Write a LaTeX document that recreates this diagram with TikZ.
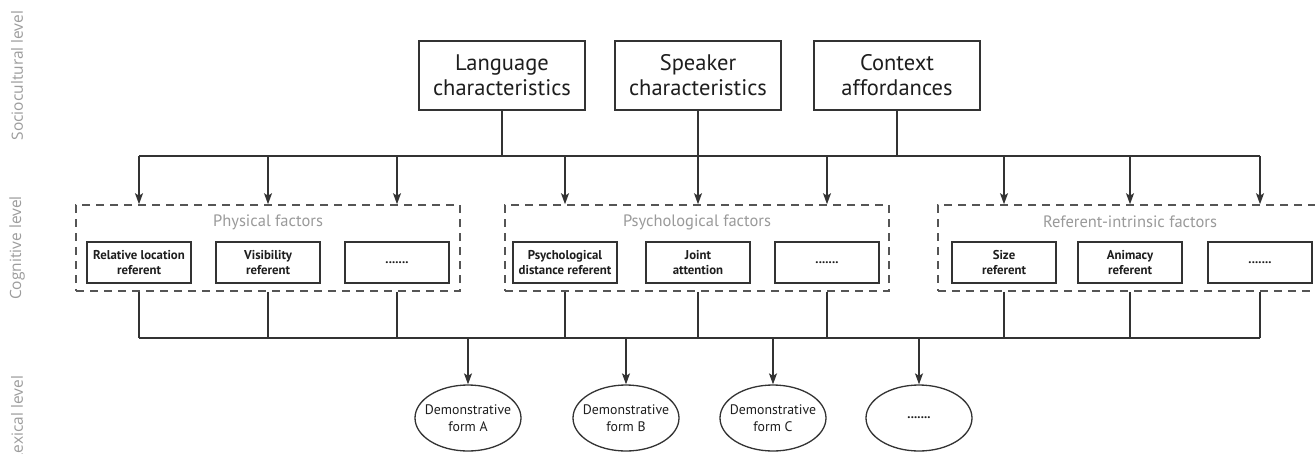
\documentclass[tikz,border=0pt]{standalone}
\usepackage{fontspec}
\setmainfont{PT Sans}
\newfontfamily\lvlfont{Open Sans}
\usetikzlibrary{arrows.meta,shapes.geometric}
\definecolor{ln}{HTML}{333333}
\definecolor{dsh}{HTML}{555555}
\definecolor{txt}{HTML}{1E1E1E}
\definecolor{ttl}{HTML}{9A9A9A}
\definecolor{lvlc}{HTML}{9C9C9C}
\begin{document}
\begin{tikzpicture}[x=1pt,y=-1pt,
  line/.style={draw=ln,line width=1.3pt},
  arr/.style={line,-{Stealth[length=11pt,width=8pt,inset=2.5pt]}},
  topbox/.style={draw=ln,line width=1.3pt,minimum width=166pt,minimum height=69pt,align=center,text=txt,inner sep=0pt,font=\fontsize{22.5}{25}\selectfont},
  group/.style={draw=dsh,line width=1.6pt,dash pattern=on 8pt off 6pt,minimum width=384pt,minimum height=86pt,inner sep=0pt},
  inbox/.style={draw=ln,line width=1.3pt,minimum width=104pt,minimum height=41pt,align=center,text=txt,inner sep=0pt,font=\bfseries\fontsize{12.8}{15.5}\selectfont},
  gtitle/.style={text=ttl,inner sep=0pt,font=\fontsize{16.5}{18}\selectfont},
  form/.style={ellipse,draw=ln,line width=1.3pt,minimum width=106pt,minimum height=66pt,inner sep=0pt},
  ftext/.style={align=center,text=txt,inner sep=0pt,font=\fontsize{13.8}{16.5}\selectfont},
  lvl/.style={text=lvlc,rotate=90,inner sep=0pt,font=\lvlfont\fontsize{15.5}{18}\selectfont}]
\useasboundingbox (0,0) rectangle (1315,453);
\fill[white] (0,0) rectangle (1315,453);

% level labels
\node[lvl] (lv1) at (17,75.5) {Sociocultural level};
\node[lvl] (lv2) at (17,248) {Cognitive level};
\node[lvl] (lv3) at (17,418.5) {Lexical level};

% top boxes
\node[topbox] (L) at (502,75.5) {Language\\characteristics};
\node[topbox] (S) at (698,75.5) {Speaker\\characteristics};
\node[topbox] (C) at (897,75.5) {Context\\affordances};

% groups
\node[group] (phys) at (268,248) {};
\node[group] (psy) at (697,248) {};
\node[group] (ref) at (1130,248) {};
\node[gtitle] (physT) at (268,222) {Physical factors};
\node[gtitle] (psyT) at (697,222) {Psychological factors};
\node[gtitle] (refT) at (1130,222) {Referent-intrinsic factors};

% inner boxes
\node[inbox] (p1) at (139,262.5) {Relative location\\referent};
\node[inbox] (p2) at (268,262.5) {Visibility\\referent};
\node[inbox] (p3) at (397,262.5) {.......};
\node[inbox] (q1) at (565,262.5) {Psychological\\distance referent};
\node[inbox] (q2) at (698,262.5) {Joint\\attention};
\node[inbox] (q3) at (827,262.5) {.......};
\node[inbox] (r1) at (1004,262.5) {Size\\referent};
\node[inbox] (r2) at (1130,262.5) {Animacy\\referent};
\node[inbox] (r3) at (1260,262.5) {.......};

% demonstrative forms
\node[form] (dA) at (468,418) {};
\node[form] (dB) at (626,418) {};
\node[form] (dC) at (773,418) {};
\node[form] (dD) at (919,418) {};
\node[ftext] (dAt) at (dA) {Demonstrative\\form A};
\node[ftext] (dBt) at (dB) {Demonstrative\\form B};
\node[ftext] (dCt) at (dC) {Demonstrative\\form C};
\node[ftext,font=\bfseries\fontsize{12.8}{15}\selectfont] (dDt) at (dD) {.......};

\coordinate (bt) at (0,156);
\coordinate (bb) at (0,338);

% top connectors
\draw[line] (L.south) -- (L.south |- bt);
\draw[line] (C.south) -- (C.south |- bt);
\draw[line] (p1 |- bt) -- (r3 |- bt);
\draw[arr] (S.south) -- (S.south |- psy.north);
\foreach \n/\g in {p1/phys,p2/phys,p3/phys,q1/psy,q3/psy,r1/ref,r2/ref,r3/ref}
  \draw[arr] (\n |- bt) -- (\n |- \g.north);

% bottom connectors
\foreach \n/\g in {p1/phys,p2/phys,p3/phys,q1/psy,q2/psy,q3/psy,r1/ref,r2/ref,r3/ref}
  \draw[line] (\n |- \g.south) -- (\n |- bb);
\draw[line] (p1 |- bb) -- (r3 |- bb);
\foreach \d in {dA,dB,dC,dD}
  \draw[arr] (\d |- bb) -- (\d.north);
\end{tikzpicture}
\end{document}
